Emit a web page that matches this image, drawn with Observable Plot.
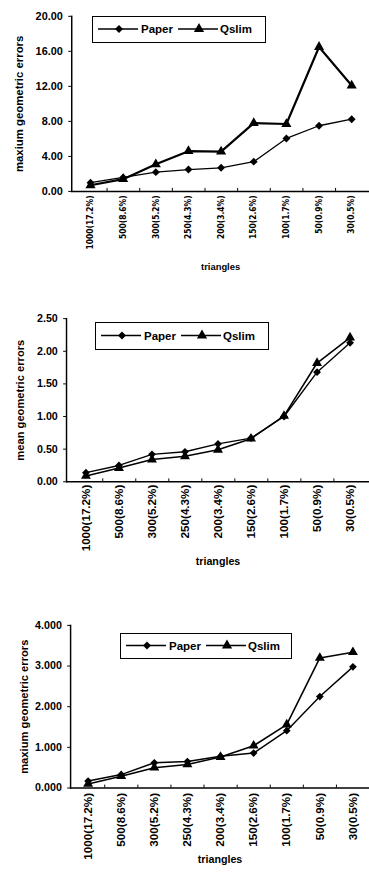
<!DOCTYPE html>
<html><head><meta charset="utf-8">
<script src="https://cdn.jsdelivr.net/npm/d3@7"></script>
<script src="https://cdn.jsdelivr.net/npm/@observablehq/plot@0.6"></script>
<style>
html,body{margin:0;padding:0;background:#fff;width:369px;height:875px;overflow:hidden;position:relative}
.panel{position:absolute;left:0}
.legend{position:absolute;border:1.6px solid #000;box-sizing:border-box;background:#fff}
</style></head><body>
<script>
const categories = ["1000(17.2%)","500(8.6%)","300(5.2%)","250(4.3%)","200(3.4%)","150(2.6%)","100(1.7%)","50(0.9%)","30(0.5%)"];
const seriesNames = ["Paper", "Qslim"];

const maxPaper  = [1.0, 1.6, 2.2, 2.5, 2.7, 3.4, 6.05, 7.5, 8.25];
const maxQslim  = [0.7, 1.4, 3.1, 4.6, 4.55, 7.8, 7.7, 16.5, 12.1];
const meanPaper = [0.14, 0.25, 0.42, 0.46, 0.58, 0.67, 1.0, 1.68, 2.13];
const meanQslim = [0.09, 0.21, 0.34, 0.39, 0.49, 0.66, 1.01, 1.82, 2.21];
const max2Paper = [0.17, 0.33, 0.62, 0.65, 0.78, 0.86, 1.41, 2.25, 2.98];
const max2Qslim = [0.10, 0.29, 0.50, 0.58, 0.76, 1.04, 1.56, 3.20, 3.34];

const ticks1 = [0, 4, 8, 12, 16, 20];
const ticks2 = [0, 0.5, 1, 1.5, 2, 2.5];
const ticks3 = [0, 1, 2, 3, 4];

const yLabel1 = "maxium geometric errors";
const yLabel2 = "mean geometric errors";
const yLabel3 = "maxium geometric errors";
const xLabel = "triangles";

const FONT = "'Liberation Sans', Arial, sans-serif";
const NARROW = "'Liberation Sans Narrow', 'DejaVu Sans Condensed', 'Liberation Sans', sans-serif";

function rows(values) {
  return categories.map((c, i) => ({cat: c, v: values[i]}));
}

function drawChart(cfg) {
  const div = document.createElement("div");
  div.className = "panel";
  div.style.top = cfg.top + "px";
  document.body.appendChild(div);
  const step = (cfg.right - cfg.marginLeft) / categories.length;
  const p = rows(cfg.paper), q = rows(cfg.qslim);
  const svg = Plot.plot({
    width: cfg.right, height: cfg.height,
    marginTop: cfg.marginTop, marginBottom: cfg.marginBottom,
    marginLeft: cfg.marginLeft, marginRight: 0,
    style: {fontFamily: FONT, color: "#000", background: "transparent", overflow: "visible"},
    x: {type: "point", domain: categories, padding: 0.5, label: null},
    y: {domain: [0, cfg.ticks[cfg.ticks.length - 1]], label: null},
    marks: [
      Plot.axisY({ticks: cfg.ticks, tickFormat: d3.format(cfg.fmt), tickSize: 3, tickPadding: 6, fontSize: 11, fontWeight: "bold", label: null}),
      Plot.axisX({tickSize: 0, tickPadding: cfg.xPad, tickRotate: -90, fontSize: cfg.xFont, fontWeight: "bold", fontFamily: cfg.xFamily, label: null}),
      Plot.axisX({ticks: categories.slice(0, -1), tickSize: -3, dx: step / 2, text: null, label: null}),
      Plot.frame({anchor: "left", strokeWidth: 1.5}),
      Plot.ruleY([0], {strokeWidth: 1.5}),
      Plot.line(p, {x: "cat", y: "v", stroke: "#000", strokeWidth: cfg.wPaper}),
      Plot.line(q, {x: "cat", y: "v", stroke: "#000", strokeWidth: cfg.wQslim}),
      Plot.dot(p, {x: "cat", y: "v", symbol: "diamond2", fill: "#000", stroke: null, r: 3.6}),
      Plot.dot(q, {x: "cat", y: "v", symbol: "triangle", fill: "#000", stroke: null, r: 3.8}),
      Plot.text([cfg.yLabel], {frameAnchor: "left", textAnchor: "middle", rotate: -90, dx: cfg.yLabelDx, fontSize: 11.5, fontWeight: "bold"}),
      Plot.text([xLabel], {frameAnchor: "bottom", dy: cfg.xLabelDy, fontSize: cfg.xLabelFont, fontWeight: "bold"})
    ]
  });
  div.appendChild(svg);

  // legend box
  const lg = cfg.legend;
  const box = document.createElement("div");
  box.className = "legend";
  box.style.left = lg.left + "px";
  box.style.top = lg.top + "px";
  box.style.width = lg.width + "px";
  box.style.height = lg.height + "px";
  document.body.appendChild(box);
  const s = d3.select(box).append("svg")
    .attr("width", lg.width - 3).attr("height", lg.height - 3)
    .style("position", "absolute").style("left", "0px").style("top", "0px")
    .style("font-family", FONT);
  const cy = (lg.height - 3) / 2;
  const items = [
    {name: seriesNames[0], x1: 5, x2: 45, m: 26, t: 48, sym: d3.symbolDiamond2, size: Math.PI * 3.6 * 3.6},
    {name: seriesNames[1], x1: 85, x2: 125, m: 106, t: 127, sym: d3.symbolTriangle, size: Math.PI * 3.8 * 3.8}
  ];
  for (const it of items) {
    s.append("line").attr("x1", it.x1).attr("x2", it.x2).attr("y1", cy).attr("y2", cy)
      .attr("stroke", "#000").attr("stroke-width", 1.5);
    s.append("path").attr("d", d3.symbol(it.sym, it.size)()).attr("transform", `translate(${it.m},${cy})`).attr("fill", "#000");
    s.append("text").attr("x", it.t).attr("y", cy).attr("dy", "0.35em")
      .attr("font-size", 11.5).attr("font-weight", "bold").text(it.name);
  }
}

drawChart({top: 0, height: 290, marginTop: 16, marginBottom: 97, marginLeft: 72, right: 373,
  paper: maxPaper, qslim: maxQslim, ticks: ticks1, fmt: ".2f", xFont: 8.5, xFamily: NARROW, xPad: 4,
  wPaper: 1.3, wQslim: 2.2, yLabel: yLabel1, yLabelDx: -53, xLabelDy: 79, xLabelFont: 9.5,
  legend: {left: 92, top: 16, width: 174, height: 27}});

drawChart({top: 290, height: 295, marginTop: 29, marginBottom: 98, marginLeft: 68, right: 380,
  paper: meanPaper, qslim: meanQslim, ticks: ticks2, fmt: ".2f", xFont: 12, xFamily: FONT, xPad: 3,
  wPaper: 1.4, wQslim: 1.6, yLabel: yLabel2, yLabelDx: -47, xLabelDy: 86, xLabelFont: 11,
  legend: {left: 95, top: 322, width: 174, height: 28}});

drawChart({top: 585, height: 290, marginTop: 41, marginBottom: 82, marginLeft: 72, right: 379,
  paper: max2Paper, qslim: max2Qslim, ticks: ticks3, fmt: ".3f", xFont: 12, xFamily: FONT, xPad: 5,
  wPaper: 1.5, wQslim: 1.6, yLabel: yLabel3, yLabelDx: -47, xLabelDy: 77, xLabelFont: 11,
  legend: {left: 120, top: 633, width: 172, height: 26}});
</script>
</body></html>
